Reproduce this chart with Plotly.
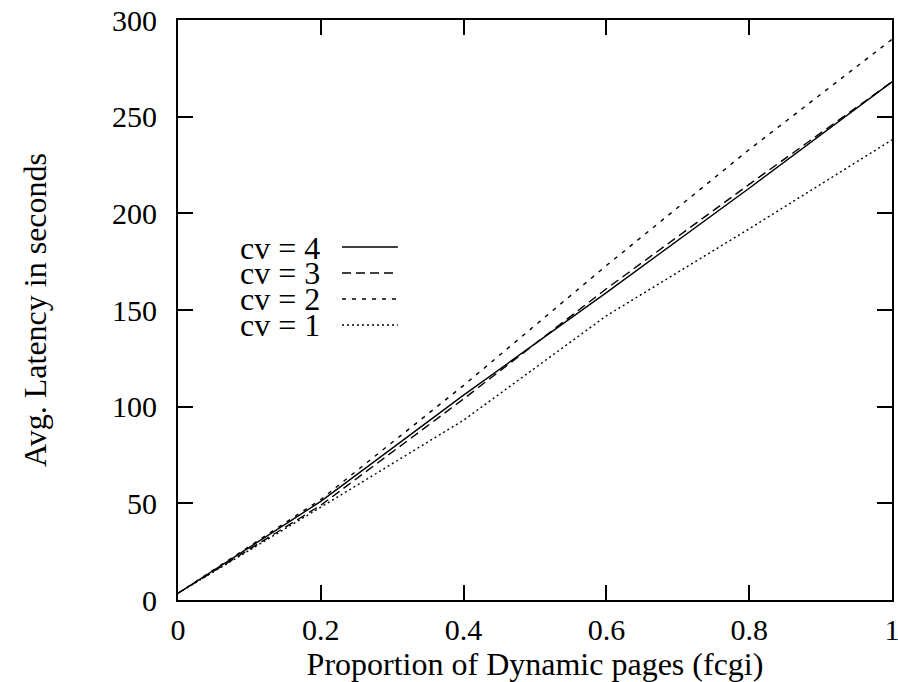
import plotly.graph_objects as go

x_vals = [0, 0.2, 0.4, 0.6, 0.8, 1.0]
cv4 = [3.5, 51, 106, 159, 213, 268]
cv3 = [3.5, 49, 104, 161, 215, 268]
cv2 = [3.5, 52, 111, 173, 233, 290]
cv1 = [3.5, 48, 93, 147, 192, 238]

series = [("cv = 4", cv4, "solid"), ("cv = 3", cv3, "9px,5px"),
          ("cv = 2", cv2, "4px,6px"), ("cv = 1", cv1, "2px,3px")]

x_ticks = [0, 0.2, 0.4, 0.6, 0.8, 1]
x_tick_text = ["0", "0.2", "0.4", "0.6", "0.8", "1"]
y_ticks = [0, 50, 100, 150, 200, 250, 300]

FONT = "Liberation Serif"
FS_TICK = 30
FS_TEXT = 32

fig = go.Figure()
for name, ys, dash in series:
    fig.add_trace(go.Scatter(x=x_vals, y=ys, mode="lines", name=name,
                             line=dict(color="black", width=1.4, dash=dash),
                             showlegend=False))

# manual legend (text on left, sample on right, like gnuplot)
leg_y0 = 0.6086
step = 0.0448
for i, (name, ys, dash) in enumerate(series):
    yy = leg_y0 - i * step
    fig.add_annotation(xref="paper", yref="paper", x=0.2017, y=yy, text=name,
                       showarrow=False, xanchor="right", yanchor="middle",
                       height=25, valign="middle",
                       font=dict(family=FONT, size=FS_TEXT, color="black"))
    fig.add_shape(type="line", xref="paper", yref="paper",
                  x0=0.2297, x1=0.308, y0=yy, y1=yy,
                  line=dict(color="black", width=1.4, dash=dash))

axis_common = dict(showline=True, linecolor="black", linewidth=2, mirror="ticks",
                   ticks="inside", ticklen=15, tickwidth=2, tickcolor="black",
                   showgrid=False, zeroline=False, automargin=False,
                   ticklabeloverflow="allow",
                   tickfont=dict(family=FONT, size=FS_TICK, color="black"))

fig.update_xaxes(range=[0, 1], tickvals=x_ticks, ticktext=x_tick_text,
                 title=dict(text="Proportion of Dynamic pages (fcgi)",
                            font=dict(family=FONT, size=FS_TEXT, color="black"), standoff=0),
                 ticklabelstandoff=2, **axis_common)
fig.update_yaxes(range=[0, 300], tickvals=y_ticks,
                 title=dict(text="Avg. Latency in seconds",
                            font=dict(family=FONT, size=FS_TEXT, color="black"), standoff=56),
                 ticklabelstandoff=13, **axis_common)

fig.update_layout(width=898, height=682, plot_bgcolor="white", paper_bgcolor="white",
                  margin=dict(l=178, r=6, t=20, b=82),
                  font=dict(family=FONT, size=FS_TICK, color="black"))

fig.write_html("out.html")
